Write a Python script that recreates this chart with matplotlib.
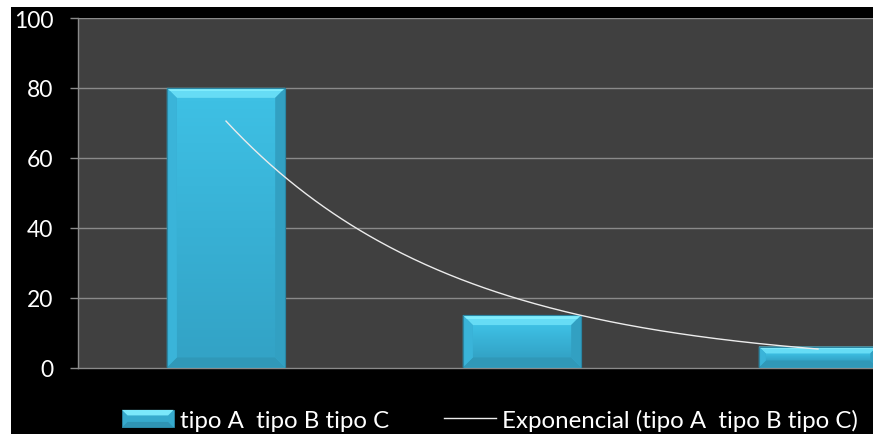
import numpy as np
import matplotlib
matplotlib.use("Agg")
import matplotlib.pyplot as plt
from matplotlib.patches import Rectangle, Polygon
from matplotlib.lines import Line2D
from matplotlib.legend_handler import HandlerBase
from matplotlib.colors import LinearSegmentedColormap

# ---- data ----
categories = ["tipo A", "tipo B", "tipo C"]
values = [80, 15, 6]
y_ticks = [0, 20, 40, 60, 80, 100]
series_label = "tipo A  tipo B tipo C"
trend_label = "Exponencial (tipo A  tipo B tipo C)"

plt.rcParams["font.family"] = ["Lato", "DejaVu Sans"]

W, H, DPI = 873, 435, 100
fig = plt.figure(figsize=(W / DPI, H / DPI), dpi=DPI, facecolor="white")

# black chart area inside a thin white margin
fig.patches.append(Rectangle((11 / W, 0), 1, 1 - 8 / H, transform=fig.transFigure,
                             facecolor="black", edgecolor="none", zorder=-1))

ax_l, ax_b = 78 / W, (H - 368.5) / H
ax_w, ax_h = 888 / W, 349.5 / H
ax = fig.add_axes([ax_l, ax_b, ax_w, ax_h])
ax.set_zorder(1)
ax.set_facecolor("#404040")

n = len(categories)
x = np.arange(1, n + 1)
ax.set_xlim(0.5, n + 0.5)
ax.set_ylim(0, 100)

# gridlines and axis styling
grid_col = "#8a8a8a"
for t in y_ticks[1:]:
    ax.axhline(t, color=grid_col, lw=1.0, zorder=1)
for s in ["top", "right"]:
    ax.spines[s].set_visible(False)
for s in ["left", "bottom"]:
    ax.spines[s].set_color(grid_col)
    ax.spines[s].set_linewidth(1.0)
ax.set_yticks(y_ticks)
ax.set_xticks([])
ax.tick_params(axis="y", colors=grid_col, length=5.8, width=1.0, pad=12,
               labelcolor="white", labelsize=16.5, direction="out")

# pixel -> data conversion for bevel sizes
px_x = (n) / (ax_w * W)
px_y = 100 / (ax_h * H)

bar_w = 0.4
face_cmap = LinearSegmentedColormap.from_list("face", ["#3ec0e4", "#38b1d5", "#33a3c6"])


def draw_bevel_bar(ax, xc, h):
    x0, x1 = xc - bar_w / 2, xc + bar_w / 2
    y0, y1 = 0, h
    hp = h / px_y
    b = min(10.0, hp * 0.33)
    bx, by = b * px_x, b * px_y
    # base
    ax.add_patch(Rectangle((x0, y0), x1 - x0, y1 - y0, facecolor="#36aed2",
                           edgecolor="#2a86a3", lw=0.8, zorder=2))
    # inner face gradient
    grad = np.linspace(0, 1, 64).reshape(-1, 1)
    ax.imshow(grad, cmap=face_cmap, aspect="auto", origin="upper",
              extent=(x0 + bx, x1 - bx, y0 + by, y1 - by), zorder=3,
              interpolation="bilinear")
    # bevel faces
    ax.add_patch(Polygon([(x0, y1), (x1, y1), (x1 - bx, y1 - by), (x0 + bx, y1 - by)],
                         closed=True, facecolor="#66dcf5", edgecolor="none", zorder=4))
    ax.add_patch(Polygon([(x0, y1 - 0.35 * by), (x1, y1 - 0.35 * by), (x1, y1), (x0, y1)],
                         closed=True, facecolor="#80ecfc", edgecolor="none", zorder=4))
    ax.add_patch(Polygon([(x0, y0), (x1, y0), (x1 - bx, y0 + by), (x0 + bx, y0 + by)],
                         closed=True, facecolor="#3098b8", edgecolor="none", zorder=4))
    ax.add_patch(Polygon([(x0, y0), (x0, y1), (x0 + bx, y1 - by), (x0 + bx, y0 + by)],
                         closed=True, facecolor="#3ab4d9", edgecolor="none", zorder=4))
    ax.add_patch(Polygon([(x1, y0), (x1, y1), (x1 - bx, y1 - by), (x1 - bx, y0 + by)],
                         closed=True, facecolor="#32a0c2", edgecolor="none", zorder=4))
    ax.add_patch(Rectangle((x0, y0), x1 - x0, y1 - y0, facecolor="none",
                           edgecolor="#2a86a3", lw=0.8, zorder=5))


for xi, v in zip(x, values):
    draw_bevel_bar(ax, xi, v)

# exponential trendline fitted to the series
coef = np.polyfit(x, np.log(values), 1)
xs = np.linspace(x[0], x[-1], 200)
ax.plot(xs, np.exp(np.polyval(coef, xs)), color="#ececec", lw=1.0, zorder=6)

ax.set_xlim(0.5, n + 0.5)
ax.set_ylim(0, 100)


class BevelHandler(HandlerBase):
    def create_artists(self, legend, orig_handle, xdescent, ydescent, width, height,
                       fontsize, trans):
        x0, y0 = -xdescent, -ydescent
        x1, y1 = x0 + width, y0 + height
        b = 4
        arts = [
            Rectangle((x0, y0), width, height, facecolor="#36aacd", edgecolor="#2a86a3", lw=0.6),
            Polygon([(x0, y1), (x1, y1), (x1 - b, y1 - b), (x0 + b, y1 - b)], facecolor="#7ae8fb"),
            Polygon([(x0, y0), (x1, y0), (x1 - b, y0 + b), (x0 + b, y0 + b)], facecolor="#2f94b4"),
        ]
        for a in arts:
            a.set_transform(trans)
        return arts


bar_handle = Rectangle((0, 0), 1, 1)
line_handle = Line2D([], [], color="#ececec", lw=1.0)
fs = 17.3
leg = fig.legend([bar_handle, line_handle], [series_label, trend_label],
                 handler_map={Rectangle: BevelHandler()},
                 loc="center left", bbox_to_anchor=(122 / W, 1 - 421 / H),
                 ncol=2, frameon=False, borderpad=0, borderaxespad=0,
                 fontsize=fs, handlelength=2.15, handleheight=0.75,
                 handletextpad=0.25, columnspacing=2.3, labelcolor="white")

fig.savefig("out.png", dpi=DPI, facecolor=fig.get_facecolor())
